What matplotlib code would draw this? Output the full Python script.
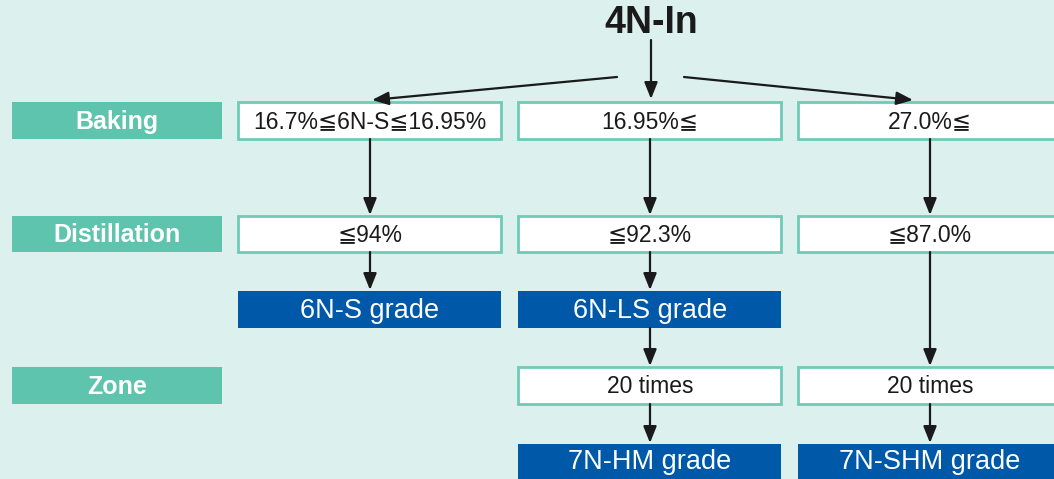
import matplotlib
matplotlib.use("Agg")
import matplotlib.pyplot as plt
from matplotlib.patches import Rectangle

# ---- content ----
title = "4N-In"
row_labels = ["Baking", "Distillation", "Zone"]
baking_texts = ["16.7%≦6N-S≦16.95%", "16.95%≦", "27.0%≦"]
distill_texts = ["≦94%", "≦92.3%", "≦87.0%"]
grade6_texts = ["6N-S grade", "6N-LS grade", None]
zone_texts = [None, "20 times", "20 times"]
grade7_texts = [None, "7N-HM grade", "7N-SHM grade"]

BG = "#dcf0ee"
TEAL = "#5ec4ad"
BORDER = "#6fcbb7"
BLUE = "#0058a9"
FONT = ["Liberation Sans", "DejaVu Sans"]

fig = plt.figure(figsize=(10.54, 4.79), dpi=100)
fig.patch.set_facecolor(BG)
ax = fig.add_axes([0, 0, 1, 1])
ax.set_xlim(0, 1054)
ax.set_ylim(479, 0)
ax.axis("off")
ax.set_facecolor(BG)

# layout
col_x = [(238, 501), (518, 781), (798, 1070)]
col_c = [370, 650, 930]
rows_y = {"bake": (102, 139), "dist": (216, 252), "g6": (291, 328),
          "zone": (367, 404), "g7": (444, 490)}
label_y = [rows_y["bake"], rows_y["dist"], rows_y["zone"]]

def box(x0, x1, y0, y1, fc, ec=None, lw=0):
    ax.add_patch(Rectangle((x0, y0), x1 - x0, y1 - y0, facecolor=fc,
                           edgecolor=ec if ec else fc, linewidth=lw, zorder=2))

def arrow(x0, y0, x1, y1):
    ax.annotate("", xy=(x1, y1), xytext=(x0, y0),
                arrowprops=dict(arrowstyle="-|>,head_length=1.0,head_width=0.4",
                                color="#1a1a1a", lw=1.6, shrinkA=0, shrinkB=0),
                zorder=3)

# title
ax.text(651, 23, title, ha="center", va="center", fontsize=27, fontweight="bold",
        family=["Liberation Sans Narrow", "Liberation Sans", "DejaVu Sans"], color="#1a1a1a")

# left row labels
for lab, (y0, y1) in zip(row_labels, label_y):
    box(12, 222, y0, y1, TEAL)
    ax.text(117, (y0 + y1) / 2 + 1, lab, ha="center", va="center", fontsize=18,
            fontweight="bold", color="white", family=FONT)

def white_box(i, key, txt):
    (x0, x1), (y0, y1) = col_x[i], rows_y[key]
    box(x0, x1, y0, y1, "white", BORDER, 2)
    ax.text(col_c[i], (y0 + y1) / 2 + 1, txt, ha="center",
            va="center", fontsize=16.5, color="#1a1a1a", family=FONT)

def blue_box(i, key, txt):
    (x0, x1), (y0, y1) = col_x[i], rows_y[key]
    box(x0, x1, y0, y1, BLUE)
    yc = (y0 + y1) / 2 + 1 if key == "g6" else 462
    ax.text(col_c[i], yc, txt, ha="center", va="center", fontsize=19.5,
            color="white", family=FONT)

for i in range(3):
    white_box(i, "bake", baking_texts[i])
    white_box(i, "dist", distill_texts[i])
    if grade6_texts[i]:
        blue_box(i, "g6", grade6_texts[i])
    if zone_texts[i]:
        white_box(i, "zone", zone_texts[i])
    if grade7_texts[i]:
        blue_box(i, "g7", grade7_texts[i])

# arrows from title
arrow(617, 77, 372, 100)
arrow(651, 40, 651, 99)
arrow(684, 77, 913, 100)

# vertical arrows
for i in range(3):
    arrow(col_c[i], 139, col_c[i], 215)
arrow(col_c[0], 252, col_c[0], 290)
arrow(col_c[1], 252, col_c[1], 290)
arrow(col_c[1], 328, col_c[1], 366)
arrow(col_c[2], 252, col_c[2], 366)
arrow(col_c[1], 404, col_c[1], 443)
arrow(col_c[2], 404, col_c[2], 443)

fig.savefig("out.png", dpi=100, facecolor=BG)
